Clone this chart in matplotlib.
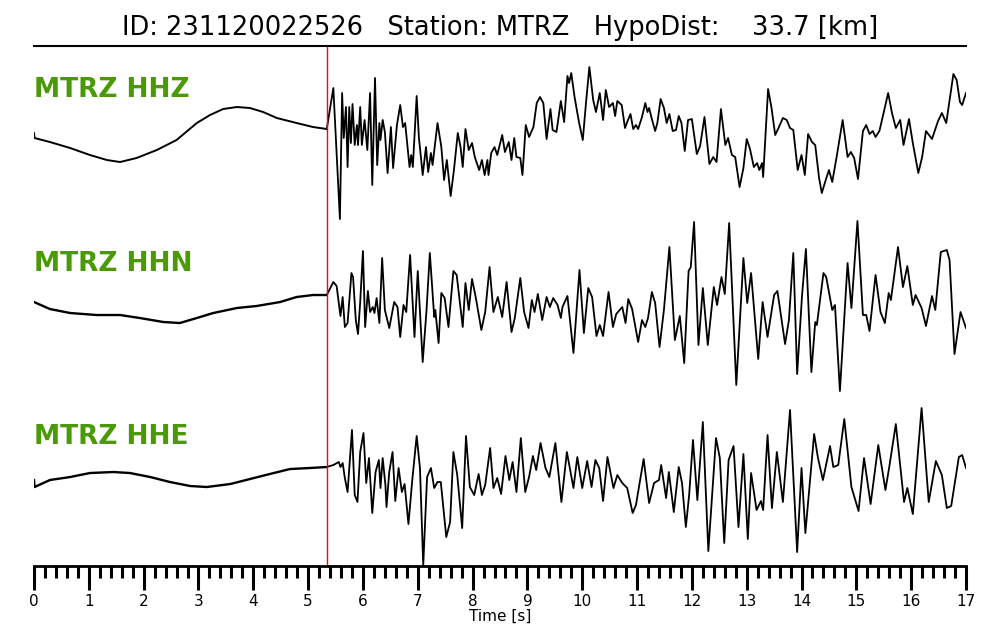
import matplotlib
matplotlib.use("Agg")
import numpy as np
import matplotlib.pyplot as plt
from matplotlib.ticker import MultipleLocator

# picked arrival and header info
event_id = "231120022526"
station = "MTRZ"
hypo_dist = 33.7
p_pick = 5.34
channels = ["HHZ", "HHN", "HHE"]

# HHZ trace: time [s], amplitude (arbitrary units)
t_hhz = [0.00, 0.01, 0.29, 0.66, 1.02, 1.33, 1.57, 1.87, 2.24, 2.60, 2.97, 3.21, 3.45, 3.70, 3.94,
         4.18, 4.43, 4.79, 5.09, 5.34,
         5.46, 5.58, 5.62, 5.65, 5.69, 5.72, 5.75, 5.78, 5.81, 5.85, 5.89, 5.91, 5.95, 5.98, 6.03, 6.08,
         6.13, 6.17, 6.22, 6.26, 6.30, 6.32, 6.36, 6.40, 6.45, 6.51, 6.55, 6.62, 6.68, 6.73, 6.77, 6.85,
         6.88, 6.91, 6.98, 7.02, 7.09, 7.15, 7.19, 7.24, 7.27, 7.36, 7.43, 7.48, 7.53, 7.60, 7.66, 7.73,
         7.78, 7.82, 7.87, 7.93, 7.99, 8.04, 8.12, 8.17, 8.22, 8.27, 8.29, 8.34, 8.40, 8.45, 8.54, 8.59,
         8.66, 8.71, 8.76, 8.80, 8.87, 8.91, 8.97, 9.03, 9.11, 9.17, 9.23, 9.29, 9.35, 9.42, 9.46, 9.53,
         9.61, 9.67, 9.73, 9.76, 9.80, 9.86, 9.94, 10.01, 10.07, 10.13, 10.20, 10.25, 10.32, 10.38, 10.43,
         10.49, 10.56, 10.60, 10.64, 10.72, 10.78, 10.82, 10.88, 10.93, 10.98, 11.02, 11.09, 11.15, 11.19,
         11.22, 11.27, 11.33, 11.37, 11.43, 11.49, 11.54, 11.59, 11.65, 11.71, 11.76, 11.81, 11.87, 11.93,
         12.00, 12.09, 12.15, 12.23, 12.32, 12.39, 12.45, 12.53, 12.61, 12.66, 12.73, 12.79, 12.87, 12.94,
         13.00, 13.06, 13.13, 13.19, 13.23, 13.28, 13.30, 13.39, 13.45, 13.52, 13.58, 13.66, 13.73, 13.79,
         13.85, 13.93, 14.00, 14.06, 14.12, 14.19, 14.25, 14.32, 14.37, 14.43, 14.50, 14.56, 14.64, 14.75,
         14.84, 14.90, 14.96, 15.03, 15.12, 15.18, 15.24, 15.30, 15.35, 15.42, 15.48, 15.58, 15.65, 15.72,
         15.80, 15.86, 15.96, 16.03, 16.13, 16.20, 16.27, 16.38, 16.49, 16.56, 16.64, 16.77, 16.83, 16.89,
         16.93, 17.00]
a_hhz = [-3, -8, -12, -18, -25, -30, -32, -28, -20, -10, 7, 15, 21, 23, 22,
         18, 12, 7, 3, 1,
         42, -89, 37, -8, 23, -37, 23, -13, 26, -15, 5, -15, 23, -15, 10, -20,
         37, -55, 52, -35, 7, -10, 10, -2, -43, 3, -38, 5, 25, 3, 7, -37,
         -25, -37, 34, -7, -45, -17, -42, -23, -35, 7, -17, -50, -30, -66, -40, -3,
         -17, -37, 1, -20, -13, -27, -40, -30, -45, -30, -45, -23, -17, -25, -5, -22,
         -12, -30, -8, -27, -28, -45, 5, -7, 3, 27, 33, 27, -9, 21, 0, -2,
         29, 8, 54, 47, 57, 33, 8, -10, 28, 63, 30, 18, 37, 10, 40,
         23, 27, 14, 29, 25, 2, 8, 16, 1, 5, 1, 13, 27, 18,
         22, 11, -1, 7, 31, 22, 7, 16, -1, 0, 14, 7, -21, 10,
         11, -24, -16, 13, -34, -27, -32, 21, -15, -8, -25, -27, -57, -38,
         -9, -19, -37, -33, -40, -33, -47, 41, 23, -5, 2, 12, 10, 2,
         0, -40, -25, -45, -4, -12, -15, -48, -63, -52, -40, -52, -27, 10,
         -27, -22, -28, -49, -1, 5, -4, -1, -7, -1, 13, 37, 17, 2,
         10, -15, 11, -13, -43, -27, -1, -9, 9, 17, 7, 56, 50, 28,
         25, 37]

# HHN trace
t_hhn = [0.00, 0.29, 0.66, 1.14, 1.57, 1.93, 2.36, 2.66, 2.97, 3.27, 3.70, 4.06, 4.49, 4.79, 5.09, 5.34,
         5.46, 5.52, 5.59, 5.63, 5.67, 5.72, 5.79, 5.82, 5.87, 5.91, 5.95, 6.00, 6.04, 6.09, 6.13, 6.18,
         6.21, 6.25, 6.30, 6.35, 6.40, 6.48, 6.57, 6.63, 6.68, 6.74, 6.79, 6.86, 6.94, 7.00, 7.09, 7.16,
         7.22, 7.30, 7.32, 7.38, 7.43, 7.49, 7.56, 7.65, 7.71, 7.82, 7.87, 7.93, 7.99, 8.06, 8.16, 8.23,
         8.31, 8.38, 8.46, 8.54, 8.62, 8.71, 8.77, 8.87, 8.94, 9.02, 9.08, 9.13, 9.19, 9.27, 9.35, 9.41,
         9.47, 9.55, 9.61, 9.64, 9.73, 9.84, 9.95, 10.03, 10.11, 10.18, 10.26, 10.32, 10.38, 10.48, 10.56,
         10.62, 10.73, 10.79, 10.84, 10.91, 11.02, 11.09, 11.15, 11.20, 11.27, 11.33, 11.41, 11.49, 11.59,
         11.69, 11.78, 11.86, 11.94, 11.98, 12.04, 12.12, 12.20, 12.29, 12.40, 12.46, 12.54, 12.60, 12.68,
         12.81, 12.94, 13.01, 13.08, 13.21, 13.29, 13.38, 13.50, 13.56, 13.70, 13.77, 13.85, 13.92, 14.01,
         14.08, 14.18, 14.25, 14.28, 14.40, 14.45, 14.56, 14.61, 14.70, 14.84, 14.91, 15.02, 15.12, 15.18,
         15.24, 15.35, 15.44, 15.52, 15.59, 15.63, 15.76, 15.85, 15.93, 16.03, 16.08, 16.19, 16.27, 16.38,
         16.44, 16.54, 16.65, 16.70, 16.79, 16.90, 17.00]
a_hhn = [-2, -9, -13, -15, -15, -18, -22, -23, -18, -13, -8, -6, -2, 3, 5, 5,
         18, 14, -16, 3, -27, -23, 27, 23, -20, -34, -2, 49, -27, 9, -12, -7,
         -13, 2, -23, 42, -10, -28, -2, -7, -37, -5, -12, 45, -37, 29, -62, -10,
         47, -17, -10, -43, 7, 2, -27, 29, 25, -27, 17, -10, 21, 2, -30, -12,
         33, -12, 3, -17, 18, -32, -18, 22, -12, -28, 0, -12, 6, -20, 3, -7,
         2, -5, -18, -7, 4, -53, 30, -33, 12, 3, -36, -25, -36, 8, -27,
         -14, -7, -23, 1, -9, -42, -20, -27, -18, 8, -3, -47, -10, 53,
         -40, -16, -63, 29, 33, 78, -45, 12, -45, 13, -5, 23, 6, 77,
         -85, 42, -3, 27, -59, -2, -37, 5, 9, -44, -20, 47, -74, 5,
         51, -72, -22, -25, 27, 23, -10, -5, -91, 37, -8, 79, -15, -15,
         -31, 25, -12, -23, 7, 0, 53, 13, 34, -5, 5, -8, -26, 4,
         -10, 48, 50, 40, -54, -12, -28]

# HHE trace
t_hhe = [0.00, 0.01, 0.29, 0.66, 1.02, 1.45, 1.75, 2.12, 2.48, 2.85, 3.15, 3.58, 3.94, 4.30, 4.67, 5.03, 5.34,
         5.46, 5.56, 5.59, 5.63, 5.67, 5.72, 5.80, 5.85, 5.90, 5.95, 6.01, 6.06, 6.11, 6.17, 6.23, 6.29,
         6.32, 6.36, 6.41, 6.43, 6.48, 6.54, 6.59, 6.65, 6.71, 6.76, 6.83, 6.90, 6.98, 7.04, 7.10, 7.17,
         7.24, 7.30, 7.36, 7.42, 7.52, 7.59, 7.65, 7.72, 7.81, 7.88, 7.95, 8.03, 8.11, 8.17, 8.23, 8.32,
         8.38, 8.45, 8.52, 8.60, 8.67, 8.73, 8.80, 8.88, 8.96, 9.03, 9.10, 9.16, 9.24, 9.33, 9.40, 9.51,
         9.62, 9.72, 9.84, 9.91, 10.00, 10.09, 10.17, 10.24, 10.31, 10.38, 10.46, 10.57, 10.64, 10.73,
         10.82, 10.92, 10.98, 11.12, 11.22, 11.31, 11.40, 11.44, 11.53, 11.58, 11.67, 11.76, 11.82, 11.89,
         11.95, 12.02, 12.10, 12.20, 12.30, 12.44, 12.51, 12.59, 12.67, 12.76, 12.85, 12.94, 13.02, 13.08,
         13.18, 13.26, 13.30, 13.38, 13.46, 13.55, 13.66, 13.79, 13.92, 14.00, 14.07, 14.23, 14.30, 14.39,
         14.52, 14.58, 14.67, 14.78, 14.91, 15.04, 15.14, 15.26, 15.40, 15.53, 15.60, 15.72, 15.87, 15.93,
         16.03, 16.19, 16.32, 16.45, 16.56, 16.65, 16.73, 16.87, 16.93, 17.00]
a_hhe = [-12, -19, -12, -9, -5, -4, -5, -9, -14, -18, -19, -16, -11, -6, -1, 0, 1,
         3, 6, 1, 5, -10, -24, 38, -27, -34, 16, 35, -15, 10, -45, -4, 8,
         -20, 10, -17, -39, -4, 16, -33, 0, -24, -16, -56, -12, 32, 0, -97, -9,
         0, -20, -14, -14, -69, -54, 16, -7, -60, 32, -19, -27, -6, -27, -17, 20,
         -20, -10, -26, 12, -12, 6, -24, 30, -24, -9, 12, -2, 25, 0, -9, 25,
         -34, 16, -20, 11, -20, 7, -19, 8, 0, -33, 11, -20, -7, -15,
         -20, -45, -37, 9, -35, -15, -12, 3, -30, -4, -44, 1, -15, -59,
         -27, 28, -32, 46, -83, 30, 10, -75, 8, 22, -59, 14, -71, -5,
         -42, -33, -42, 33, -40, 16, -34, 58, -84, 0, -65, 34, 10, -12,
         22, 1, 3, 49, -19, -43, 10, -36, 23, -22, 1, 44, -34, -20,
         -46, 60, -34, 7, -7, -40, -38, 11, 13, 0]

traces = [(t_hhz, a_hhz), (t_hhn, a_hhn), (t_hhe, a_hhe)]
offsets = [0, -170, -338]
label_shift = [40, 36, 31]

fig = plt.figure(figsize=(10, 6.4), dpi=100)
ax = fig.add_axes([0.034, 0.1156, 0.932, 0.8125])

for (t, a), off, ch, ls in zip(traces, offsets, channels, label_shift):
    t = np.array(t)
    a = np.array(a) + off
    pre = t <= p_pick
    # pre-event noise drawn a bit heavier, like the noisy trace in the original
    ax.plot(t[pre], a[pre], color="black", lw=1.7 if ch != "HHZ" else 1.4, solid_joinstyle="round")
    ax.plot(t[~pre | (t == p_pick)], a[~pre | (t == p_pick)], color="black", lw=1.3,
            solid_joinstyle="round")
    ax.text(0, off + ls, f"{station} {ch}", color="#4a9a06", fontsize=19,
            fontweight="bold", ha="left", va="center")

ax.axvline(p_pick, color="red", lw=1)

ax.set_xlim(0, 17)
ax.set_ylim(-436, 84)
ax.xaxis.set_major_locator(MultipleLocator(1))
ax.xaxis.set_minor_locator(MultipleLocator(0.2))
ax.tick_params(axis="x", which="major", length=17, width=2.2, labelsize=11, pad=3)
ax.tick_params(axis="x", which="minor", length=8.5, width=2.2)
ax.set_yticks([])
for s in ["left", "right"]:
    ax.spines[s].set_visible(False)
ax.spines["bottom"].set_linewidth(2)
ax.spines["top"].set_linewidth(1.5)
ax.set_xlabel("Time [s]", fontsize=11, labelpad=0)
ax.set_title(f"ID: {event_id}   Station: {station}   HypoDist:    {hypo_dist} [km]",
             fontsize=18.5, pad=8)

fig.savefig("out.png", dpi=100)
